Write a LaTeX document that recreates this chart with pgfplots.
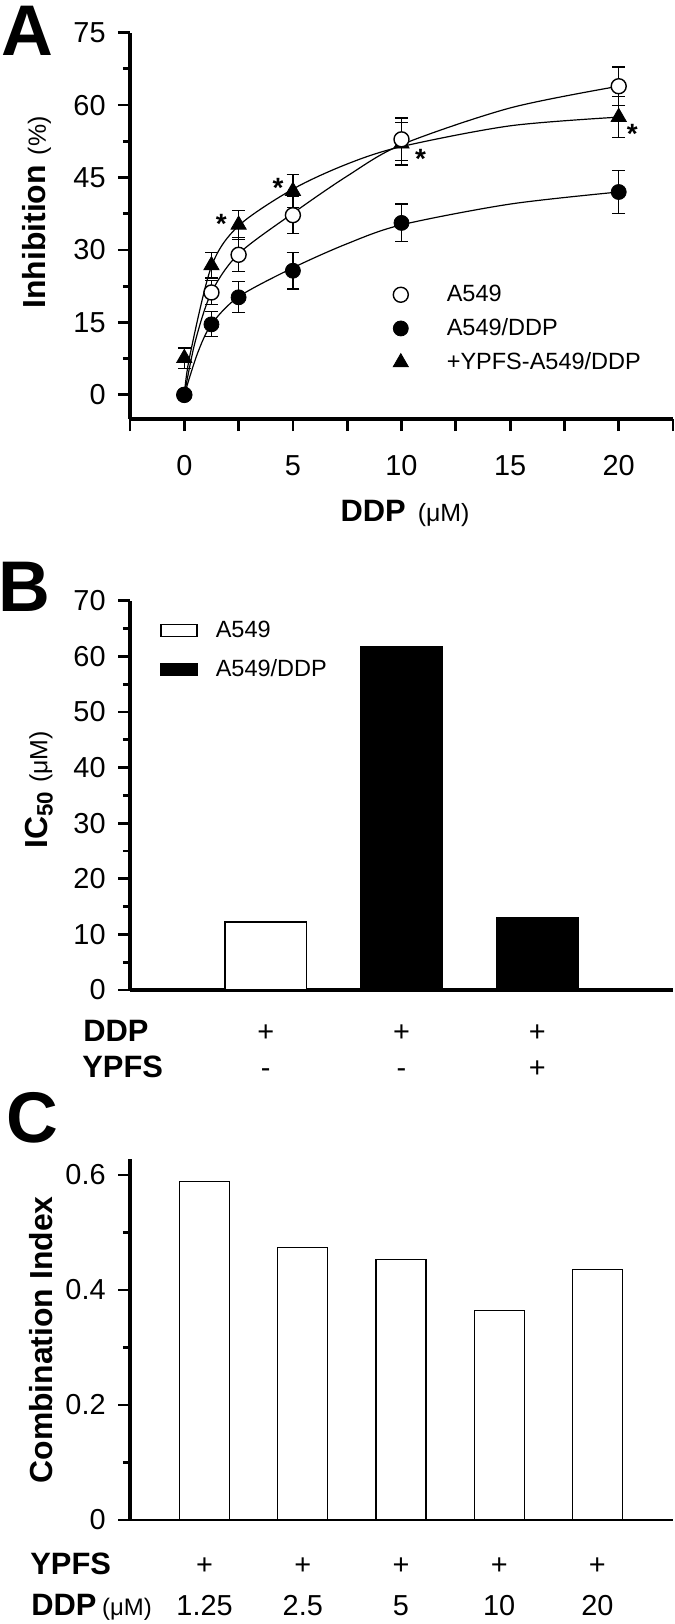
\documentclass[border=0pt]{standalone}
\usepackage{fontspec}
\setmainfont{Liberation Sans}
\usepackage{pgfplots}
\pgfplotsset{compat=1.18}

\pgfplotsset{
  panel/.style={
    scale only axis, anchor=south west, clip=false,
    axis x line*=bottom, axis y line*=left,
    axis line style={line width=1.7bp},
    tick style={black, line width=1.4bp},
    tick align=outside,
    major tick length=6bp, minor tick length=3.6bp,
    tick label style={font=\fontsize{14.5}{16}\selectfont},
    /pgf/number format/assume math mode=true,
    yticklabel style={anchor=east, inner sep=0pt, xshift=-6bp},
  },
  lgmark/.style={legend image code/.code={\draw[mark repeat=2,mark phase=2,##1] plot coordinates {(0bp,0bp) (10bp,0bp) (30.8bp,0bp)}; \path (0bp,0bp) (30.8bp,0bp);}},
  ebar/.style={error bars/.cd, y dir=both, y explicit,
    error bar style={line width=0.6bp, black},
    error mark=-, error mark options={rotate=90, black, line width=0.6bp, mark size=3.2bp}},
}

\begin{document}
\begin{tikzpicture}
\useasboundingbox (0,0) rectangle (337.5bp,-812bp);

% panel A
\begin{axis}[panel, at={(65bp,-209.5bp)}, width=271.5bp, height=193.2bp,
  xmin=-2.5, xmax=22.5, ymin=-5, ymax=75,
  xtick={-2.5,0,2.5,5,7.5,10,12.5,15,17.5,20,22.5},
  xticklabels={,0,,5,,10,,15,,20,},
  xticklabel style={anchor=center, yshift=-17.5bp},
  ytick={0,15,30,45,60,75},
  minor ytick={7.5,22.5,37.5,52.5,67.5},
  legend style={draw=none, fill=none, font=\fontsize{11.8}{13}\selectfont,
    at={(axis description cs:0.4604,0.358)}, anchor=north west,
    inner sep=0pt, row sep=3bp},
  legend cell align=left,
]
% fitted curves
\addplot[smooth, tension=0.5, line width=0.6bp, forget plot] coordinates {(0,0) (0.5,11) (1.25,21.2) (2.5,29.2) (5,37.6) (7.5,45.3) (10,51.8) (15,59.4) (20,63.9)};
\addplot[smooth, tension=0.5, line width=0.6bp, forget plot] coordinates {(0,0) (0.25,8) (1.25,26.6) (2.5,35.0) (5,42.6) (7.5,47.8) (10,51.4) (15,55.7) (20,57.5)};
\addplot[smooth, tension=0.5, line width=0.6bp, forget plot] coordinates {(0,0) (0.6,8.5) (1.25,14.6) (2.5,20.3) (5,26.3) (7.5,31.3) (10,35.2) (15,39.5) (20,42.0)};

% +YPFS-A549/DDP
\addplot[only marks, mark=triangle*, mark size=4.4bp, mark options={fill=black, draw=black}, forget plot, ebar]
  table[x=x, y=y, y error=e] {
x y e
0 7.6 2.1
1.25 26.8 2.6
2.5 35.2 3.0
5 42.2 3.4
10 52.0 4.4
20 57.5 4.2
};
% A549
\addplot[only marks, mark=*, mark size=3.75bp, mark options={fill=white, draw=black, line width=0.7bp}, lgmark, ebar]
  table[x=x, y=y, y error=e] {
x y e
0 0 0.8
1.25 21.2 2.5
2.5 29.0 3.5
5 37.2 3.8
10 52.9 4.4
20 63.9 4.0
};
\addlegendentry{A549}
% A549/DDP
\addplot[only marks, mark=*, mark size=3.75bp, mark options={fill=black, draw=black}, lgmark, ebar]
  table[x=x, y=y, y error=e] {
x y e
0 0 0.8
1.25 14.6 2.6
2.5 20.2 3.2
5 25.7 3.8
10 35.6 3.9
20 42.0 4.4
};
\addlegendentry{A549/DDP}
\addlegendimage{only marks, mark=triangle*, mark size=4.4bp, mark options={fill=black, draw=black}, lgmark}
\addlegendentry{+YPFS-A549/DDP}

\node[font=\bfseries\fontsize{14}{14}\selectfont, yshift=-3bp] at (axis cs:1.70,36.7) {*};
\node[font=\bfseries\fontsize{14}{14}\selectfont, yshift=-3bp] at (axis cs:4.32,44.0) {*};
\node[font=\bfseries\fontsize{14}{14}\selectfont, yshift=-3bp] at (axis cs:10.88,50.1) {*};
\node[font=\bfseries\fontsize{14}{14}\selectfont, yshift=-3bp] at (axis cs:20.63,55.3) {*};
\end{axis}

% panel B
\begin{axis}[panel, at={(65bp,-495bp)}, width=271.5bp, height=194.65bp,
  xmin=0, xmax=4, ymin=0, ymax=70, xtick=\empty,
  ytick={0,10,...,70}, minor ytick={5,15,...,65},
  legend style={draw=none, fill=none, font=\fontsize{11.8}{13}\selectfont,
    at={(axis description cs:0.0552,0.959)}, anchor=north west,
    inner sep=0pt, row sep=5.5bp},
  legend cell align=left,
  legend image code/.code={\draw[#1] (0bp,-3bp) rectangle (18bp,3bp); \path (25bp,0bp);},
]
\addplot[ybar, bar width=0.6, bar shift=0pt, fill=white, draw=black, line width=0.7bp] coordinates {(1,12.2)};
\addlegendentry{A549}
\addplot[ybar, bar width=0.6, bar shift=0pt, fill=black, draw=black, line width=0.7bp] coordinates {(2,61.8) (3,13.0)};
\addlegendentry{A549/DDP}
\end{axis}

% panel C
\begin{axis}[panel, at={(65bp,-760bp)}, width=271.5bp, height=180.3bp,
  xmin=0.24, xmax=5.77, ymin=0, ymax=0.627, xtick=\empty,
  x axis line style={line width=0.8bp},
  ytick={0,0.2,0.4,0.6}, minor ytick={0.1,0.3,0.5},
  yticklabel style={/pgf/number format/fixed},
]
\addplot[ybar, bar width=0.51, bar shift=0pt, fill=white, draw=black, line width=0.6bp] coordinates {(1,0.589) (2,0.474) (3,0.453) (4,0.365) (5,0.435)};
\end{axis}

% text laid out in reference pixels
\begin{scope}[x=0.5bp, y=-0.5bp, every node/.style={inner sep=0pt}]
\node[font=\bfseries\fontsize{36}{38}\selectfont] at (27,30.5) {A};
\node[font=\bfseries\fontsize{36}{38}\selectfont] at (24,587) {B};
\node[font=\bfseries\fontsize{36}{38}\selectfont] at (32,1118) {C};

\node[anchor=base] at (405,521.5) {{\bfseries\fontsize{15.5}{17}\selectfont DDP}\hspace{6bp}{\fontsize{12.5}{14}\selectfont(μM)}};
\node[rotate=90] at (37,212.5) {{\bfseries\fontsize{16}{18}\selectfont Inhibition}\hspace{5bp}{\fontsize{12.5}{14}\selectfont(\%)}};
\node[rotate=90] at (39,790) {{\bfseries\fontsize{16}{18}\selectfont IC\textsubscript{50}}\hspace{4bp}{\fontsize{12.5}{14}\selectfont(μM)}};
\node[rotate=90] at (41,1340) {\bfseries\fontsize{16}{18}\selectfont Combination Index};

\node[anchor=base west, font=\bfseries\fontsize{15.5}{17}\selectfont] at (83,1041.2) {DDP};
\node[anchor=base west, font=\bfseries\fontsize{15.5}{17}\selectfont] at (82,1077.2) {YPFS};
\foreach \xx in {265.75,401.5,537.25}
  \node[anchor=base, font=\fontsize{14.5}{16}\selectfont] at (\xx,1041.2) {+};
\node[anchor=base, font=\fontsize{14.5}{16}\selectfont] at (265.75,1077.2) {-};
\node[anchor=base, font=\fontsize{14.5}{16}\selectfont] at (401.5,1077.2) {-};
\node[anchor=base, font=\fontsize{14.5}{16}\selectfont] at (537.25,1077.2) {+};

\node[anchor=base west, font=\bfseries\fontsize{15.5}{17}\selectfont] at (30,1574.5) {YPFS};
\node[anchor=base west] at (31,1615.5) {{\bfseries\fontsize{15.5}{17}\selectfont DDP} {\fontsize{12}{14}\selectfont(μM)}};
\foreach \xx/\lab in {204.6/1.25,302.8/2.5,401.0/5,499.2/10,597.4/20} {
  \node[anchor=base, font=\fontsize{14.5}{16}\selectfont] at (\xx,1574.5) {+};
  \node[anchor=base, font=\fontsize{14.5}{16}\selectfont] at (\xx,1615.5) {\lab};
}
\end{scope}
\end{tikzpicture}
\end{document}
